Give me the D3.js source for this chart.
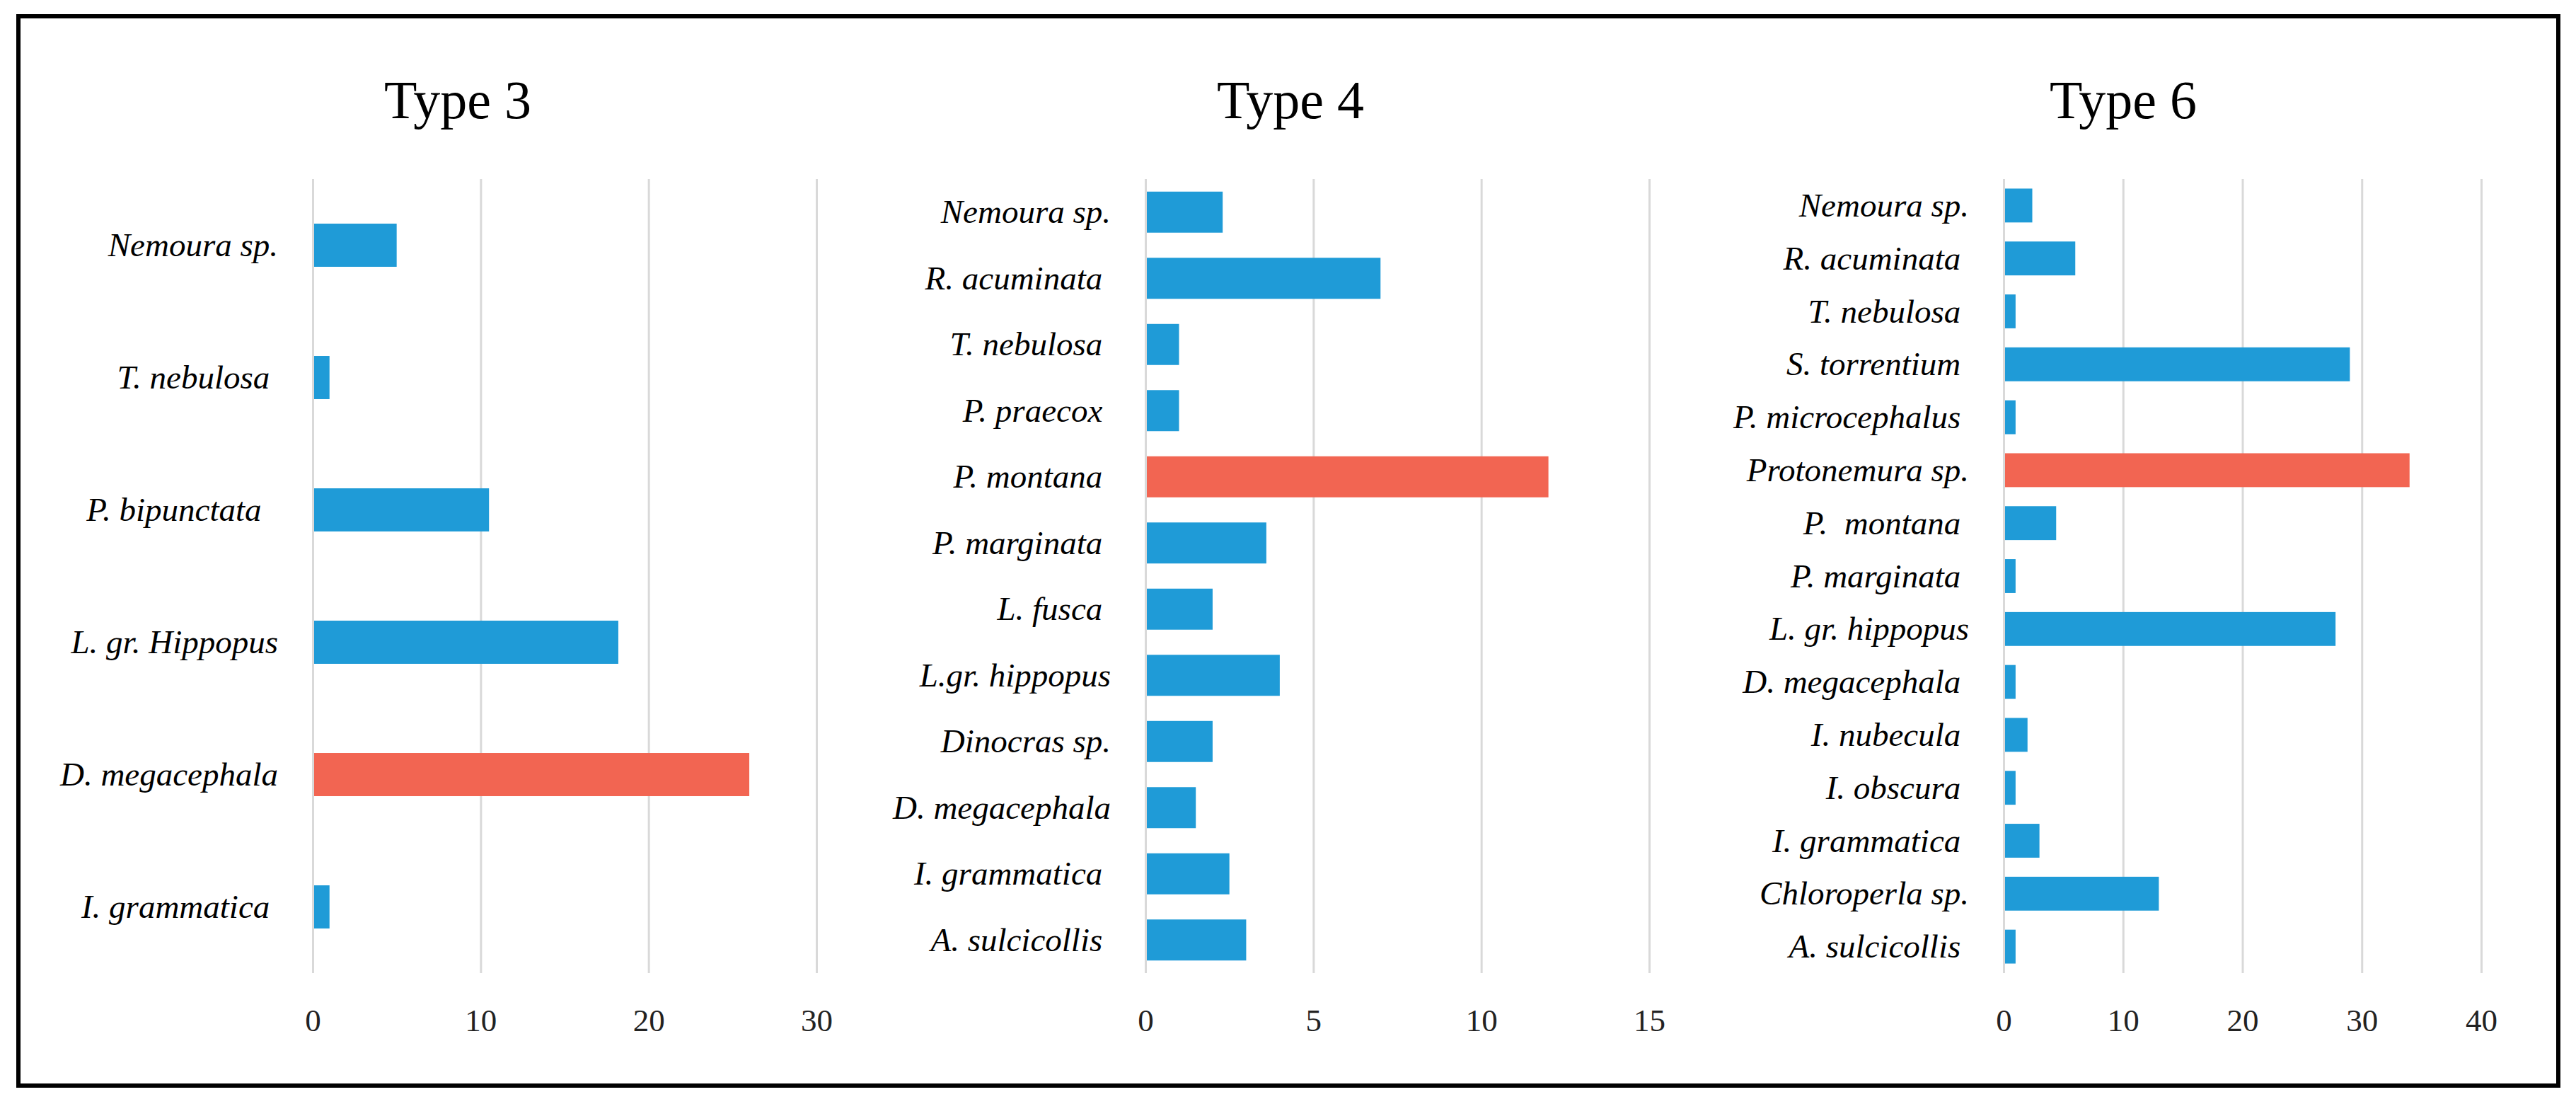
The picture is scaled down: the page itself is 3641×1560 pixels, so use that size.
<!DOCTYPE html>
<html>
<head>
<meta charset="utf-8">
<script src="https://cdn.jsdelivr.net/npm/d3@7"></script>
<style>
  html, body { margin: 0; padding: 0; background: #ffffff; }
  svg text { white-space: pre; }
</style>
</head>
<body>
<svg id="chart" width="3641" height="1560"></svg>
<script>
// ---------- DATA ----------
const panelTitles = ["Type 3", "Type 4", "Type 6"];

const type3Species = ["Nemoura sp.", "T. nebulosa ", "P. bipunctata  ", "L. gr. Hippopus", "D. megacephala", "I. grammatica "];
const type3Values  = [5, 1, 10.5, 18.2, 26, 1];
const type3Highlight = "D. megacephala";
const type3Ticks = [0, 10, 20, 30];

const type4Species = ["Nemoura sp.", "R. acuminata ", "T. nebulosa ", "P. praecox ", "P. montana ", "P. marginata ", "L. fusca ", "L.gr. hippopus", "Dinocras sp.", "D. megacephala", "I. grammatica ", "A. sulcicollis "];
const type4Values  = [2.3, 7, 1, 1, 12, 3.6, 2, 4, 2, 1.5, 2.5, 3];
const type4Highlight = "P. montana ";
const type4Ticks = [0, 5, 10, 15];

const type6Species = ["Nemoura sp.", "R. acuminata ", "T. nebulosa ", "S. torrentium ", "P. microcephalus ", "Protonemura sp.", "P.  montana ", "P. marginata ", "L. gr. hippopus", "D. megacephala ", "I. nubecula ", "I. obscura ", "I. grammatica ", "Chloroperla sp.", "A. sulcicollis "];
const type6Values  = [2.4, 6, 1, 29, 1, 34, 4.4, 1, 27.8, 1, 2, 1, 3, 13, 1];
const type6Highlight = "Protonemura sp.";
const type6Ticks = [0, 10, 20, 30, 40];

// ---------- LAYOUT / STYLE ----------
const W = 3641, H = 1560;
const plotTop = 253, plotBottom = 1375;
const blue = "#1f9bd7", red = "#f26552", grid = "#d9d9d9";
const serif = "'Liberation Serif', 'DejaVu Serif', serif";

const panels = [
  { title: panelTitles[0], species: type3Species, values: type3Values, highlight: type3Highlight, ticks: type3Ticks,
    x0: 442, x1: 1154, titleX: 647, barFrac: 0.326 },
  { title: panelTitles[1], species: type4Species, values: type4Values, highlight: type4Highlight, ticks: type4Ticks,
    x0: 1619, x1: 2331, titleX: 1824, barFrac: 0.62 },
  { title: panelTitles[2], species: type6Species, values: type6Values, highlight: type6Highlight, ticks: type6Ticks,
    x0: 2832, x1: 3507, titleX: 3001, barFrac: 0.64 }
];

const svg = d3.select("#chart");
svg.append("rect").attr("x", 0).attr("y", 0).attr("width", W).attr("height", H).attr("fill", "#ffffff");

// outer frame
svg.append("rect")
  .attr("x", 26).attr("y", 23).attr("width", 3590).attr("height", 1511)
  .attr("fill", "none").attr("stroke", "#000").attr("stroke-width", 6);

panels.forEach(p => {
  const rows = p.species.map((s, i) => ({ name: s, value: p.values[i] }));
  const maxTick = p.ticks[p.ticks.length - 1];
  const x = d3.scaleLinear().domain([0, maxTick]).range([p.x0, p.x1]);
  const pad = 1 - p.barFrac;
  const y = d3.scaleBand().domain(p.species).range([plotTop, plotBottom])
    .paddingInner(pad).paddingOuter(pad / 2);

  const g = svg.append("g");

  // title
  g.append("text")
    .attr("x", p.titleX).attr("y", 167)
    .attr("text-anchor", "middle")
    .attr("font-family", serif).attr("font-size", 76)
    .attr("fill", "#000")
    .text(p.title);

  // gridlines via axis
  const gridAxis = d3.axisBottom(x).tickValues(p.ticks).tickSize(-(plotBottom - plotTop)).tickFormat("");
  const gg = g.append("g").attr("transform", `translate(0,${plotBottom})`).call(gridAxis);
  gg.select(".domain").remove();
  gg.selectAll(".tick line").attr("stroke", grid).attr("stroke-width", 3);

  // tick labels
  const labelAxis = d3.axisBottom(x).tickValues(p.ticks).tickSize(0).tickPadding(0).tickFormat(d3.format("d"));
  const la = g.append("g").attr("transform", `translate(0,${plotBottom})`).call(labelAxis);
  la.select(".domain").remove();
  la.selectAll(".tick text")
    .attr("y", 82).attr("dy", null)
    .attr("font-family", serif).attr("font-size", 45)
    .attr("fill", "#222");

  // bars
  g.selectAll("rect.bar").data(rows).enter().append("rect")
    .attr("class", "bar")
    .attr("x", x(0) + 2)
    .attr("y", d => y(d.name))
    .attr("width", d => Math.max(0, x(d.value) - x(0) - 2))
    .attr("height", y.bandwidth())
    .attr("fill", d => d.name === p.highlight ? red : blue);

  // category labels
  g.selectAll("text.cat").data(rows).enter().append("text")
    .attr("class", "cat")
    .attr("x", p.x0 - 49)
    .attr("y", d => y(d.name) + y.bandwidth() / 2)
    .attr("dy", "0.33em")
    .attr("text-anchor", "end")
    .attr("font-family", serif).attr("font-style", "italic").attr("font-size", 47)
    .attr("fill", "#000")
    .text(d => d.name);
});
</script>
</body>
</html>
